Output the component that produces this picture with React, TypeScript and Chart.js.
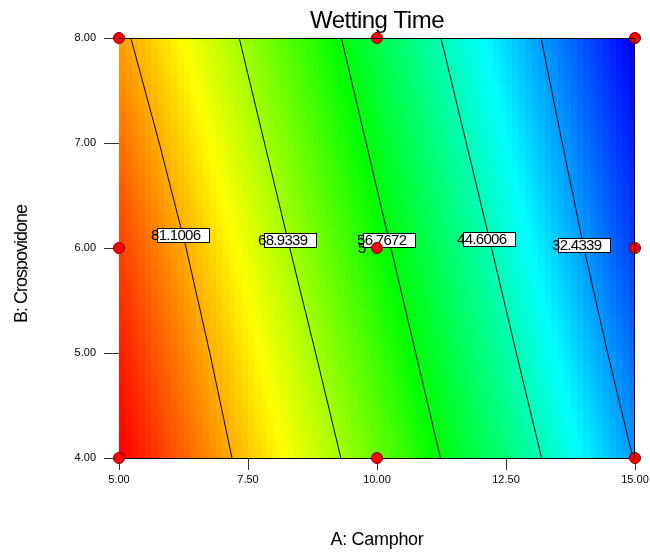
import React, { useEffect, useRef } from 'react';
import { Chart, registerables } from 'chart.js';

Chart.register(...registerables);

// ---- data ----
const chartTitle = 'Wetting Time';
const xAxisTitle = 'A: Camphor';
const yAxisTitle = 'B: Crospovidone';

const xTicks = [5, 7.5, 10, 12.5, 15];
const yTicks = [4, 5, 6, 7, 8];

// design points (red dots)
const designX = [5, 10, 15, 5, 10, 15, 5, 10, 15];
const designY = [8, 8, 8, 6, 6, 6, 4, 4, 4];

// contour levels and their x-positions at B = 8, 7, 6, 5, 4
const contourLevels = [81.1006, 68.9339, 56.7672, 44.6006, 32.4339];
const contourY = [8, 7, 6, 5, 4];
const contour1X = [5.23, 5.78, 6.3, 6.76, 7.19];
const contour2X = [7.33, 7.82, 8.31, 8.81, 9.3];
const contour3X = [9.31, 9.79, 10.27, 10.75, 11.23];
const contour4X = [11.24, 11.73, 12.22, 12.7, 13.19];
const contour5X = [13.18, 13.59, 14.01, 14.47, 14.96];
const contourXs = [contour1X, contour2X, contour3X, contour4X, contour5X];

// contour label anchors (text start x, centre y)
const labelText = ['81.1006', '68.9339', '56.7672', '44.6006', '32.4339'];
const labelX = [5.62, 7.694, 9.612, 11.55, 13.391];
const labelY = [6.124, 6.076, 6.076, 6.081, 6.029];
// stray overlapped label fragment
const strayText = ['5'];
const strayX = [9.632];
const strayY = [6.0];

const FONT = '"Liberation Sans", Arial, sans-serif';

function contourXAt(xs: number[], yv: number): number {
  for (let i = 0; i < contourY.length - 1; i++) {
    const y0 = contourY[i];
    const y1 = contourY[i + 1];
    if (yv <= y0 && yv >= y1) {
      const t = (y0 - yv) / (y0 - y1);
      return xs[i] + t * (xs[i + 1] - xs[i]);
    }
  }
  return yv > contourY[0] ? xs[0] : xs[xs.length - 1];
}

function surfaceValue(xv: number, yv: number): number {
  const pos = contourXs.map((xs) => contourXAt(xs, yv));
  const n = pos.length;
  let k = 0;
  if (xv <= pos[0]) k = 0;
  else if (xv >= pos[n - 1]) k = n - 2;
  else {
    for (let i = 0; i < n - 1; i++) {
      if (xv >= pos[i] && xv <= pos[i + 1]) {
        k = i;
        break;
      }
    }
  }
  const t = (xv - pos[k]) / (pos[k + 1] - pos[k]);
  return contourLevels[k] + t * (contourLevels[k + 1] - contourLevels[k]);
}

const surfacePlugin = {
  id: 'surface',
  beforeDatasetsDraw(chart: any) {
    const { ctx, chartArea: a, scales } = chart;
    const xs = scales.x;
    const ys = scales.y;
    const nx = 80;
    const ny = 64;
    const xmin = xs.min, xmax = xs.max, ymin = ys.min, ymax = ys.max;
    const vals: number[][] = [];
    let vmin = Infinity, vmax = -Infinity;
    for (let i = 0; i < nx; i++) {
      const row: number[] = [];
      const xv = xmin + ((i + 0.5) / nx) * (xmax - xmin);
      for (let j = 0; j < ny; j++) {
        const yv = ymin + ((j + 0.5) / ny) * (ymax - ymin);
        const v = surfaceValue(xv, yv);
        row.push(v);
        if (v < vmin) vmin = v;
        if (v > vmax) vmax = v;
      }
      vals.push(row);
    }
    ctx.save();
    ctx.beginPath();
    ctx.rect(a.left, a.top, a.right - a.left, a.bottom - a.top);
    ctx.clip();
    for (let i = 0; i < nx; i++) {
      const x0 = Math.round(xs.getPixelForValue(xmin + (i / nx) * (xmax - xmin)));
      const x1 = Math.round(xs.getPixelForValue(xmin + ((i + 1) / nx) * (xmax - xmin)));
      for (let j = 0; j < ny; j++) {
        const y0 = Math.round(ys.getPixelForValue(ymin + ((j + 1) / ny) * (ymax - ymin)));
        const y1 = Math.round(ys.getPixelForValue(ymin + (j / ny) * (ymax - ymin)));
        const t = (vmax - vals[i][j]) / (vmax - vmin);
        const hue = 240 * t;
        ctx.fillStyle = `hsl(${hue.toFixed(1)}, 100%, 50%)`;
        ctx.fillRect(x0, y0, x1 - x0, y1 - y0);
      }
    }
    ctx.restore();
  },
  beforeDatasetDraw(chart: any, args: any) {
    if (args.index !== 0) return;
    const { ctx, scales } = chart;
    const xs = scales.x;
    const ys = scales.y;
    ctx.save();
    ctx.font = `15px ${FONT}`;
    (ctx as any).letterSpacing = '-0.7px';
    ctx.textBaseline = 'middle';
    ctx.textAlign = 'left';
    ctx.fillStyle = '#000';
    strayText.forEach((s, i) => {
      ctx.fillText(s, xs.getPixelForValue(strayX[i]), ys.getPixelForValue(strayY[i]) + 1);
    });
    labelText.forEach((s, i) => {
      const px = Math.round(xs.getPixelForValue(labelX[i]));
      const py = Math.round(ys.getPixelForValue(labelY[i]));
      ctx.fillStyle = '#000';
      ctx.fillText(s, px, py + 1);
      const bx = px + 6;
      const bw = 52;
      const by = py - 7;
      const bh = 14;
      ctx.fillStyle = '#fff';
      ctx.fillRect(bx, by, bw, bh);
      ctx.strokeStyle = '#000';
      ctx.lineWidth = 1;
      ctx.strokeRect(bx + 0.5, by + 0.5, bw, bh);
      ctx.save();
      ctx.beginPath();
      ctx.rect(bx + 1, by + 1, bw - 1, bh - 1);
      ctx.clip();
      ctx.fillStyle = '#000';
      ctx.fillText(s, px, py + 1);
      ctx.restore();
    });
    ctx.restore();
  },
  afterDraw(chart: any) {
    const { ctx, chartArea: a } = chart;
    ctx.save();
    ctx.strokeStyle = '#000';
    ctx.lineWidth = 1;
    ctx.beginPath();
    ctx.moveTo(a.left, a.top + 0.5);
    ctx.lineTo(a.right, a.top + 0.5);
    ctx.moveTo(a.right - 0.5, a.top);
    ctx.lineTo(a.right - 0.5, a.bottom);
    ctx.stroke();
    // title
    ctx.fillStyle = '#000';
    ctx.textAlign = 'center';
    ctx.textBaseline = 'alphabetic';
    ctx.font = `24px ${FONT}`;
    (ctx as any).letterSpacing = '-0.5px';
    ctx.fillText(chartTitle, (a.left + a.right) / 2, 28);
    // x title
    ctx.font = `18px ${FONT}`;
    (ctx as any).letterSpacing = '-0.3px';
    ctx.fillText(xAxisTitle, (a.left + a.right) / 2, 545);
    // y title (clipped at the baseline side)
    ctx.save();
    ctx.beginPath();
    ctx.rect(0, 0, 28, 552);
    ctx.clip();
    ctx.translate(27, 264);
    ctx.rotate(-Math.PI / 2);
    ctx.font = `18px ${FONT}`;
    (ctx as any).letterSpacing = '-1px';
    ctx.fillText(yAxisTitle, 0, 0);
    ctx.restore();
    ctx.restore();
  },
};

export default function App() {
  const ref = useRef<HTMLCanvasElement | null>(null);
  useEffect(() => {
    const canvas = ref.current;
    if (!canvas) return;
    const contourDatasets = contourXs.map((xsArr, k) => ({
      type: 'line' as const,
      label: `contour ${contourLevels[k]}`,
      data: xsArr.map((x, i) => ({ x, y: contourY[i] })),
      borderColor: '#000',
      borderWidth: 1,
      pointRadius: 0,
      showLine: true,
      fill: false,
      tension: 0,
      order: 1,
    }));
    const chart = new Chart(canvas, {
      type: 'scatter',
      data: {
        datasets: [
          {
            type: 'scatter' as const,
            label: 'design points',
            data: designX.map((x, i) => ({ x, y: designY[i] })),
            pointRadius: 5.5,
            pointBackgroundColor: '#ff0000',
            pointBorderColor: '#7a0000',
            pointBorderWidth: 1,
            clip: false as any,
            order: 0,
          },
          ...contourDatasets,
        ] as any,
      },
      options: {
        animation: false,
        responsive: false,
        maintainAspectRatio: false,
        layout: { padding: { top: 38, right: 15, left: 0, bottom: 0 } },
        plugins: {
          legend: { display: false },
          tooltip: { enabled: false },
          title: { display: false },
        },
        scales: {
          x: {
            type: 'linear',
            min: 5,
            max: 15,
            afterBuildTicks: (s: any) => {
              s.ticks = xTicks.map((v) => ({ value: v }));
            },
            ticks: {
              callback: (v: any) => Number(v).toFixed(2),
              font: { family: FONT, size: 11 },
              color: '#000',
              padding: 3,
              maxRotation: 0,
            },
            grid: { drawOnChartArea: false, tickLength: 12, color: '#333' },
            border: { color: '#000' },
            afterFit: (s: any) => {
              s.height = 94;
              s.paddingLeft = 0;
              s.paddingRight = 0;
            },
          },
          y: {
            type: 'linear',
            min: 4,
            max: 8,
            afterBuildTicks: (s: any) => {
              s.ticks = yTicks.map((v) => ({ value: v }));
            },
            ticks: {
              callback: (v: any) => Number(v).toFixed(2),
              font: { family: FONT, size: 11 },
              color: '#000',
              padding: 8,
            },
            grid: { drawOnChartArea: false, tickLength: 15, color: '#333' },
            border: { color: '#000' },
            afterFit: (s: any) => {
              s.width = 119;
              s.paddingTop = 0;
              s.paddingBottom = 0;
            },
          },
        },
      } as any,
      plugins: [surfacePlugin],
    });
    return () => chart.destroy();
  }, []);
  return (
    <div style={{ position: 'absolute', left: 0, top: 0, width: 650, height: 552, background: '#fff' }}>
      <canvas ref={ref} width={650} height={552} style={{ display: 'block' }} />
    </div>
  );
}
